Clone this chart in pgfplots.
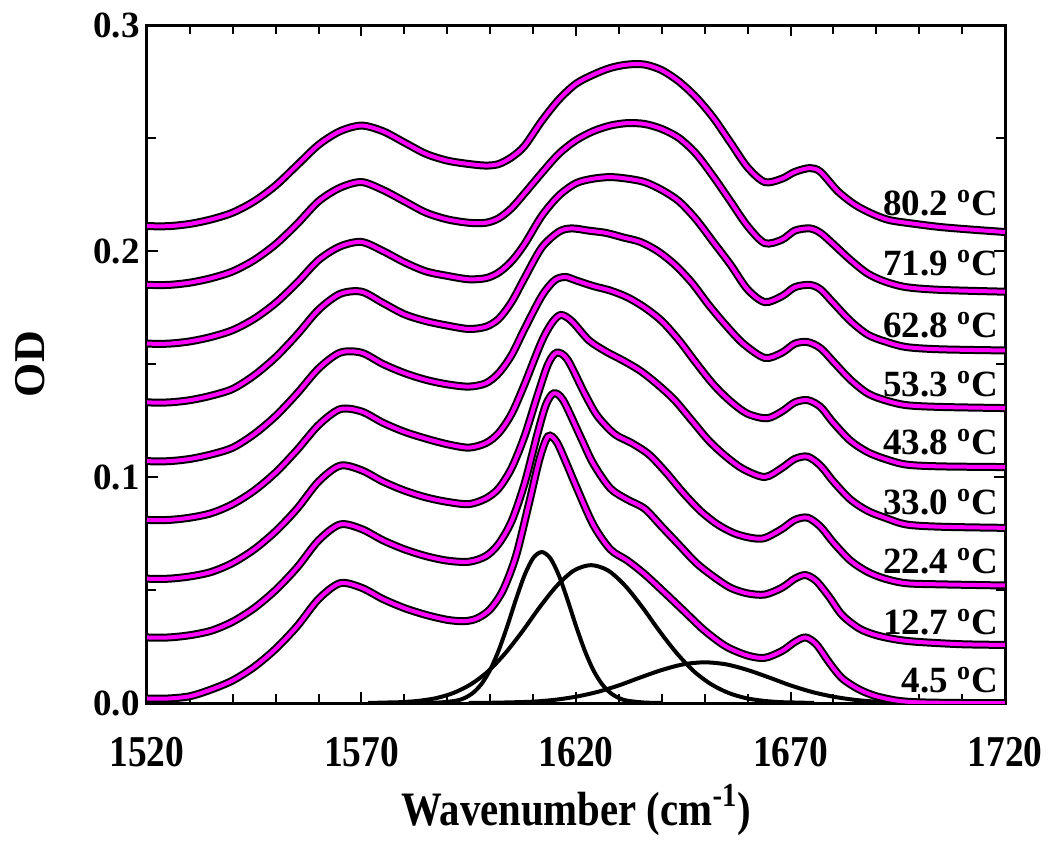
\documentclass[border=0pt]{standalone}
\usepackage{pgfplots}
\pgfplotsset{compat=1.18}
\usepackage{pgfplotstable}
\usepackage{fontspec}
\setmainfont{Liberation Serif}
\definecolor{mag}{RGB}{255,0,255}

% 4.5 C
\pgfplotstableread{
x y
1520 0.002
1525 0.002
1530 0.003
1535 0.006
1540 0.010
1545 0.016
1550 0.024
1555 0.034
1560 0.046
1565 0.053
1570 0.051
1575 0.046
1580 0.042
1585 0.039
1590 0.0368
1594 0.0362
1597 0.0375
1600 0.0415
1603 0.050
1606 0.065
1609 0.088
1611.5 0.108
1613.5 0.118
1615.5 0.1155
1618 0.105
1620 0.096
1624 0.079
1628 0.068
1632 0.063
1636 0.057
1640 0.050
1645 0.041
1650 0.032
1655 0.025
1660 0.021
1664 0.020
1668 0.023
1671 0.027
1673.5 0.029
1676 0.026
1679 0.018
1682 0.011
1686 0.006
1690 0.003
1695 0.001
1700 0.0003
1710 0
1720 0
}\tA
% 12.7 C
\pgfplotstableread{
x y
1520 0.029
1525 0.029
1530 0.030
1535 0.032
1540 0.036
1545 0.042
1550 0.050
1555 0.060
1560 0.072
1565 0.079
1570 0.077
1575 0.072
1580 0.068
1585 0.065
1590 0.063
1595 0.0625
1599 0.065
1602 0.0705
1605 0.0805
1608 0.097
1611 0.119
1613 0.132
1614.8 0.137
1617 0.134
1621 0.118
1624 0.106
1628 0.095
1632 0.090
1636 0.086
1640 0.078
1644 0.070
1648 0.062
1652 0.056
1656 0.051
1660 0.0485
1664 0.048
1668 0.051
1671 0.055
1673.5 0.0566
1676 0.054
1679 0.047
1682 0.039
1686 0.033
1690 0.030
1695 0.028
1700 0.027
1710 0.026
1720 0.0257
}\tB
% 22.4 C
\pgfplotstableread{
x y
1520 0.055
1525 0.055
1530 0.056
1535 0.058
1540 0.062
1545 0.068
1550 0.076
1555 0.086
1560 0.098
1565 0.105
1570 0.103
1575 0.098
1580 0.094
1585 0.091
1590 0.089
1595 0.088
1599 0.0905
1602 0.095
1605 0.104
1608 0.118
1611 0.136
1613.5 0.150
1615.5 0.155
1618 0.152
1622 0.137
1625 0.127
1629 0.119
1633 0.115
1637 0.110
1641 0.102
1645 0.093
1649 0.085
1653 0.079
1657 0.075
1661 0.073
1664 0.073
1668 0.077
1671 0.081
1674 0.082
1677 0.078
1680 0.071
1684 0.063
1688 0.058
1692 0.055
1697 0.053
1705 0.0525
1720 0.052
}\tC
% 33.0 C
\pgfplotstableread{
x y
1520 0.081
1525 0.081
1530 0.082
1535 0.084
1540 0.088
1545 0.094
1550 0.102
1555 0.112
1560 0.123
1565 0.130
1570 0.129
1575 0.124
1580 0.120
1585 0.117
1590 0.1145
1595 0.113
1599 0.115
1602 0.1195
1605 0.128
1608 0.141
1612 0.160
1614.5 0.1685
1616.5 0.1717
1619 0.169
1623 0.1605
1627 0.1555
1631 0.1515
1635 0.147
1639 0.141
1643 0.134
1647 0.125
1651 0.116
1655 0.109
1659 0.1035
1664 0.100
1668 0.104
1671 0.108
1674 0.109
1677 0.105
1680 0.098
1684 0.090
1688 0.085
1692 0.082
1697 0.079
1705 0.078
1720 0.0775
}\tD
% 43.8 C
\pgfplotstableread{
x y
1520 0.107
1525 0.107
1530 0.108
1535 0.110
1540 0.113
1545 0.119
1550 0.127
1555 0.137
1560 0.148
1565 0.155
1570 0.155
1575 0.150
1580 0.146
1585 0.143
1590 0.141
1595 0.140
1599 0.1415
1602 0.146
1605 0.154
1608 0.1655
1612 0.180
1615 0.187
1617.5 0.1885
1620 0.187
1624 0.1845
1628 0.1825
1632 0.1795
1636 0.175
1640 0.169
1644 0.1605
1648 0.1505
1652 0.141
1656 0.1335
1660 0.128
1664.5 0.126
1668 0.129
1671 0.133
1674 0.134
1677 0.131
1680 0.124
1684 0.116
1688 0.111
1692 0.108
1697 0.1055
1705 0.1047
1720 0.1044
}\tE
% 53.3 C
\pgfplotstableread{
x y
1520 0.133
1525 0.133
1530 0.134
1535 0.136
1540 0.139
1545 0.145
1550 0.153
1555 0.163
1560 0.174
1565 0.181
1570 0.182
1575 0.177
1580 0.172
1585 0.169
1590 0.167
1595 0.1655
1599 0.1665
1602 0.170
1605 0.1775
1608 0.188
1612 0.2015
1616 0.2085
1619 0.210
1623 0.209
1627 0.208
1631 0.206
1635 0.204
1639 0.200
1643 0.194
1647 0.186
1651 0.176
1655 0.167
1659 0.159
1664 0.1527
1668 0.155
1671 0.159
1674 0.1597
1677 0.157
1680 0.151
1684 0.143
1688 0.137
1692 0.134
1697 0.1318
1705 0.131
1720 0.1305
}\tF
% 62.8 C
\pgfplotstableread{
x y
1520 0.159
1525 0.159
1530 0.160
1535 0.162
1540 0.165
1545 0.170
1550 0.177
1555 0.186
1560 0.196
1565 0.202
1570 0.204
1575 0.200
1580 0.195
1585 0.191
1590 0.189
1595 0.1875
1599 0.188
1602 0.1905
1605 0.1955
1608 0.203
1612 0.2155
1616 0.2245
1620 0.2300
1624 0.232
1628 0.2327
1632 0.232
1636 0.2305
1640 0.227
1644 0.222
1648 0.214
1652 0.204
1656 0.194
1660 0.183
1664 0.1774
1668 0.180
1671 0.184
1674.5 0.185
1677 0.183
1680 0.177
1684 0.169
1688 0.163
1692 0.160
1697 0.1575
1705 0.1565
1720 0.156
}\tG
% 71.9 C
\pgfplotstableread{
x y
1520 0.185
1525 0.185
1530 0.186
1535 0.188
1540 0.191
1545 0.196
1550 0.203
1555 0.212
1560 0.222
1565 0.228
1570 0.2305
1575 0.227
1580 0.222
1585 0.217
1590 0.214
1595 0.2125
1599 0.2125
1602 0.2145
1605 0.219
1608 0.2255
1612 0.2345
1616 0.243
1620 0.249
1624 0.253
1628 0.2555
1632 0.2566
1636 0.2562
1640 0.254
1644 0.250
1648 0.243
1652 0.233
1656 0.222
1660 0.211
1664 0.2035
1668 0.205
1671 0.209
1674.5 0.210
1677 0.208
1680 0.203
1684 0.196
1688 0.190
1692 0.1865
1697 0.184
1705 0.1828
1720 0.182
}\tH
% 80.2 C
\pgfplotstableread{
x y
1520 0.211
1525 0.211
1530 0.212
1535 0.214
1540 0.217
1545 0.222
1550 0.229
1555 0.238
1560 0.247
1565 0.253
1570 0.2555
1575 0.253
1580 0.248
1585 0.243
1590 0.2400
1595 0.2385
1599 0.2378
1602 0.2385
1605 0.2415
1608 0.2465
1612 0.2575
1616 0.267
1620 0.274
1624 0.278
1628 0.281
1632 0.2825
1636 0.2825
1640 0.280
1644 0.275
1648 0.268
1652 0.259
1656 0.248
1660 0.237
1664 0.2305
1668 0.232
1671 0.235
1674.5 0.2367
1677 0.235
1681 0.2265
1685 0.2205
1689 0.2165
1693 0.2137
1699 0.212
1705 0.2106
1712 0.2095
1720 0.2084
}\tI
% component bands of the 4.5 C spectrum
\pgfplotstableread{
x y
1584 0
1588 0.0002
1592 0.001
1594 0.0022
1596 0.0045
1598 0.0085
1600 0.0147
1602 0.0234
1604 0.0341
1606 0.0458
1608 0.0565
1610 0.0641
1612 0.0668
1614 0.0641
1616 0.0565
1618 0.0458
1620 0.0341
1622 0.0234
1624 0.0147
1626 0.0085
1628 0.0045
1630 0.0022
1632 0.001
1636 0.0002
1640 0
}\gA
\pgfplotstableread{
x y
1571.5 0
1575.5 0.0002
1579.5 0.0004
1583.5 0.0010
1587.5 0.0022
1591.5 0.0045
1595.5 0.0083
1599.5 0.0140
1603.5 0.0220
1607.5 0.0317
1611.5 0.0423
1615.5 0.0518
1619.5 0.0586
1623.5 0.0610
1627.5 0.0586
1631.5 0.0518
1635.5 0.0423
1639.5 0.0317
1643.5 0.0220
1647.5 0.0140
1651.5 0.0083
1655.5 0.0045
1659.5 0.0022
1663.5 0.0010
1667.5 0.0004
1671.5 0.0002
1675.5 0
}\gB
\pgfplotstableread{
x y
1595 0
1600 0.0001
1605 0.0003
1610 0.0006
1615 0.0014
1620 0.0028
1625 0.0049
1630 0.0078
1635 0.0113
1640 0.0146
1645 0.0171
1650 0.0180
1655 0.0171
1660 0.0146
1665 0.0113
1670 0.0078
1675 0.0049
1680 0.0028
1685 0.0014
1690 0.0006
1695 0.0003
1700 0.0001
1705 0
}\gC

\newcommand{\hs}[1]{\scalebox{0.85}[1]{#1}}

\begin{document}
\begin{tikzpicture}
\begin{axis}[
  scale only axis, width=429pt, height=339pt,
  xmin=1520, xmax=1720, ymin=0, ymax=0.3,
  xtick={1520,1570,1620,1670,1720},
  xticklabels={\hs{1520},\hs{1570},\hs{1620},\hs{1670},\hs{1720}},
  minor x tick num=4,
  ytick={0,0.1,0.2,0.3},
  yticklabels={0.0,0.1,0.2,0.3},
  minor y tick num=1,
  tick align=inside,
  major tick length=5.5pt, minor tick length=4.5pt,
  every tick/.style={black, line width=1pt},
  axis line style={line width=1.5pt},
  tick label style={font=\bfseries\fontsize{18.5}{20}\selectfont},
  xticklabel style={font=\bfseries\fontsize{22}{23}\selectfont, inner sep=0pt, yshift=-17pt},
  yticklabel style={inner sep=0pt, xshift=-3.5pt},
  clip=true,
  every axis plot/.append style={smooth, tension=0.5},
]
\addplot[black, line width=2pt] table {\gA};
\addplot[black, line width=2pt] table {\gB};
\addplot[black, line width=2pt] table {\gC};
\addplot[black, line width=4pt] table {\tA};
\addplot[mag, line width=2pt] table {\tA};
\addplot[black, line width=4pt] table {\tB};
\addplot[mag, line width=2pt] table {\tB};
\addplot[black, line width=4pt] table {\tC};
\addplot[mag, line width=2pt] table {\tC};
\addplot[black, line width=4pt] table {\tD};
\addplot[mag, line width=2pt] table {\tD};
\addplot[black, line width=4pt] table {\tE};
\addplot[mag, line width=2pt] table {\tE};
\addplot[black, line width=4pt] table {\tF};
\addplot[mag, line width=2pt] table {\tF};
\addplot[black, line width=4pt] table {\tG};
\addplot[mag, line width=2pt] table {\tG};
\addplot[black, line width=4pt] table {\tH};
\addplot[mag, line width=2pt] table {\tH};
\addplot[black, line width=4pt] table {\tI};
\addplot[mag, line width=2pt] table {\tI};
\begin{scope}[every node/.style={anchor=east, inner sep=0pt, font=\bfseries\fontsize{18.5}{20}\selectfont}]
\node at (axis cs:1718.4,0.2212) {80.2 \textsuperscript{o}C};
\node at (axis cs:1718.4,0.1947) {71.9 \textsuperscript{o}C};
\node at (axis cs:1718.4,0.1673) {62.8 \textsuperscript{o}C};
\node at (axis cs:1718.4,0.1412) {53.3 \textsuperscript{o}C};
\node at (axis cs:1718.4,0.1155) {43.8 \textsuperscript{o}C};
\node at (axis cs:1718.4,0.0889) {33.0 \textsuperscript{o}C};
\node at (axis cs:1718.4,0.0628) {22.4 \textsuperscript{o}C};
\node at (axis cs:1718.4,0.0358) {12.7 \textsuperscript{o}C};
\node at (axis cs:1718.4,0.0102) {4.5 \textsuperscript{o}C};
\end{scope}
\end{axis}
\node[rotate=90, font=\bfseries\fontsize{22}{24}\selectfont] at (-58.5pt,169.5pt) {OD};
\node[font=\bfseries\fontsize{24}{26}\selectfont] at (214.5pt,-53.5pt) {\hs{Wavenumber (cm\textsuperscript{-1})}};
\pgfresetboundingbox
\useasboundingbox (-73.5pt,-70pt) rectangle (451.5pt,351.5pt);
\end{tikzpicture}
\end{document}
